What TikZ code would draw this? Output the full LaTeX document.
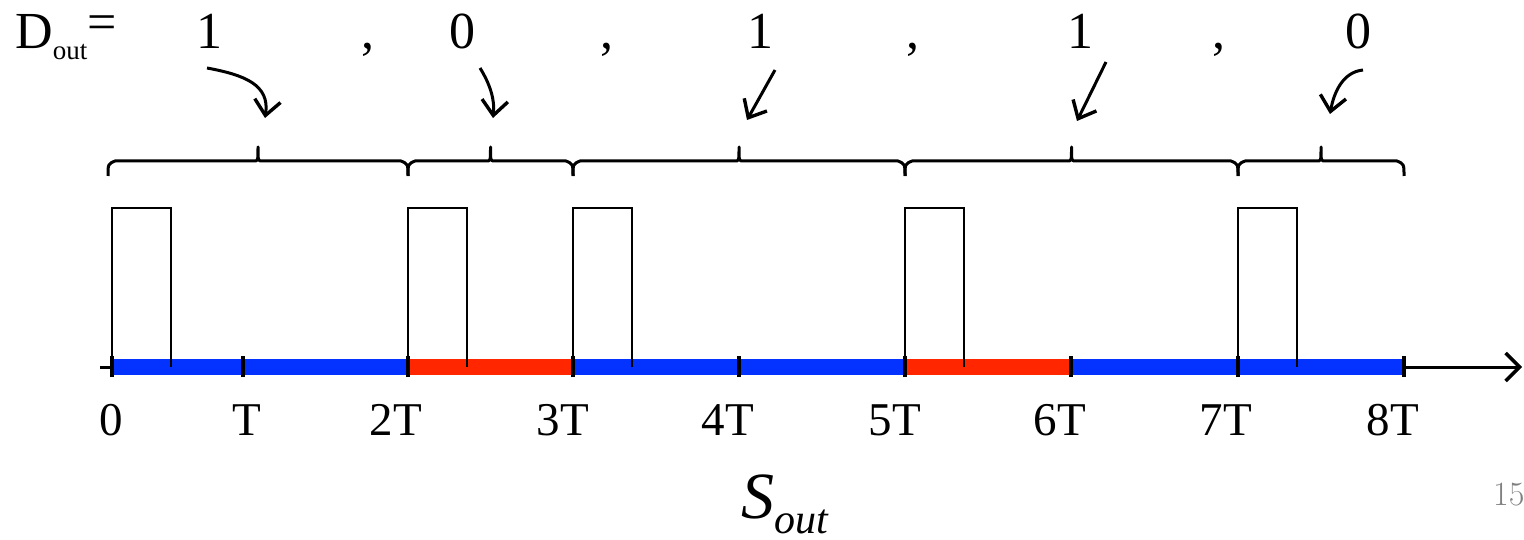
\documentclass[tikz,border=0pt]{standalone}
\usepackage{fontspec}
\setmainfont{Liberation Serif}
\usetikzlibrary{arrows.meta}
\definecolor{barblue}{RGB}{4,51,255}
\definecolor{barred}{RGB}{255,38,0}
\begin{document}
\begin{tikzpicture}[x=1pt,y=-1pt,
  toplabel/.style={anchor=base,inner sep=0pt,font=\fontsize{52}{60}\selectfont},
  ticklabel/.style={anchor=base,inner sep=0pt,font=\fontsize{47}{56}\selectfont},
  bracepath/.style={line width=3pt,line join=round},
  pointer/.style={line width=3pt,-{Straight Barb[length=15pt,width=26pt,line width=3.4pt]}},
  pulse/.style={line width=2pt},
  tickmark/.style={line width=3.2pt},
  bar/.style={line width=16pt},
  axis/.style={line width=3pt,-{Straight Barb[length=14pt,width=28pt,line width=3.4pt]}}]
\useasboundingbox (0,0) rectangle (1524,540);
% axis
\coordinate (ax0) at (100,367);
\coordinate (ax1) at (1522,367);
\draw[axis] (ax0) -- (ax1);
% time coordinates
\foreach \n/\x in {0/112,1/243,2/408,3/573,4/739,5/905,6/1071,7/1238,8/1404}{
  \coordinate (t\n) at (\x,367);
}
% bars
\draw[bar,barblue] (t0) -- (t2);
\draw[bar,barred] (t2) -- (t3);
\draw[bar,barblue] (t3) -- (t5);
\draw[bar,barred] (t5) -- (t6);
\draw[bar,barblue] (t6) -- (t8);
% ticks
\foreach \n in {0,...,8}{
  \draw[tickmark] ([yshift=-10pt]t\n) -- ([yshift=11pt]t\n);
}
% pulses
\foreach \x in {112,408,573,905,1238}{
  \draw[pulse] (\x,367) -- (\x,208) -- (\x+59,208) -- (\x+59,367);
}
% tick labels
\foreach \n/\x/\t in {0/111/0,1/247/T,2/396/2T,3/563/3T,4/728/4T,5/895/5T,6/1060/6T,7/1226/7T,8/1393/8T}{
  \node[ticklabel] (lab\n) at (\x,435) {\t};
}
% braces
\foreach \a/\b/\k in {108/408/1,408/573/2,573/905/3,905/1238/4,1238/1404/5}{
  \coordinate (bs\k) at (\a,176);
  \coordinate (be\k) at (\b,176);
  \pgfmathsetmacro\m{(\a+\b)/2}
  \draw[bracepath] (bs\k) .. controls (\a,164) .. (\a+7,161)
     -- (\m-4,161) .. controls (\m,161) .. (\m,147)
     .. controls (\m,161) .. (\m+4,161)
     -- (\b-7,161) .. controls (\b,164) .. (be\k);
}
% top labels
\node[anchor=base west,inner sep=0pt,font=\fontsize{52}{60}\selectfont] (dout) at (15,49)
  {D\raisebox{-0.21em}{\fontsize{27}{30}\selectfont out}\raisebox{0.18em}{=}};
\node[toplabel] (d1) at (209,49) {1};
\node[toplabel] (c1) at (368,49) {,};
\node[toplabel] (d2) at (462,49) {0};
\node[toplabel] (c2) at (607,49) {,};
\node[toplabel] (d3) at (760,49) {1};
\node[toplabel] (c3) at (913,49) {,};
\node[toplabel] (d4) at (1080,49) {1};
\node[toplabel] (c4) at (1219,49) {,};
\node[toplabel] (d5) at (1358,49) {0};
% pointer arrows
\coordinate (p1s) at (207,68);  \coordinate (p1e) at (265,118);
\coordinate (p2s) at (480,68);  \coordinate (p2e) at (493,118);
\coordinate (p3s) at (775,70);  \coordinate (p3e) at (747,120);
\coordinate (p4s) at (1106,62); \coordinate (p4e) at (1077,121);
\coordinate (p5s) at (1363,70); \coordinate (p5e) at (1330,114);
\draw[pointer] (p1s) .. controls (245,75) and (270,85) .. (p1e);
\draw[pointer] (p2s) .. controls (490,84) and (495,100) .. (p2e);
\draw[pointer] (p3s) -- (p3e);
\draw[pointer] (p4s) -- (p4e);
\draw[pointer] (p5s) .. controls (1343,72) and (1334,92) .. (p5e);
% S_out
\node[anchor=base,inner sep=0pt,font=\fontsize{66}{70}\selectfont\itshape] (sout) at (785,518)
  {S\raisebox{-0.23em}{\fontsize{42}{46}\selectfont out}};
% page number
\node[anchor=base west,inner sep=0pt,text=gray,font=\fontspec{Latin Modern Roman}\fontsize{34}{40}\selectfont] (pg) at (1493,505) {15};
\end{tikzpicture}
\end{document}
